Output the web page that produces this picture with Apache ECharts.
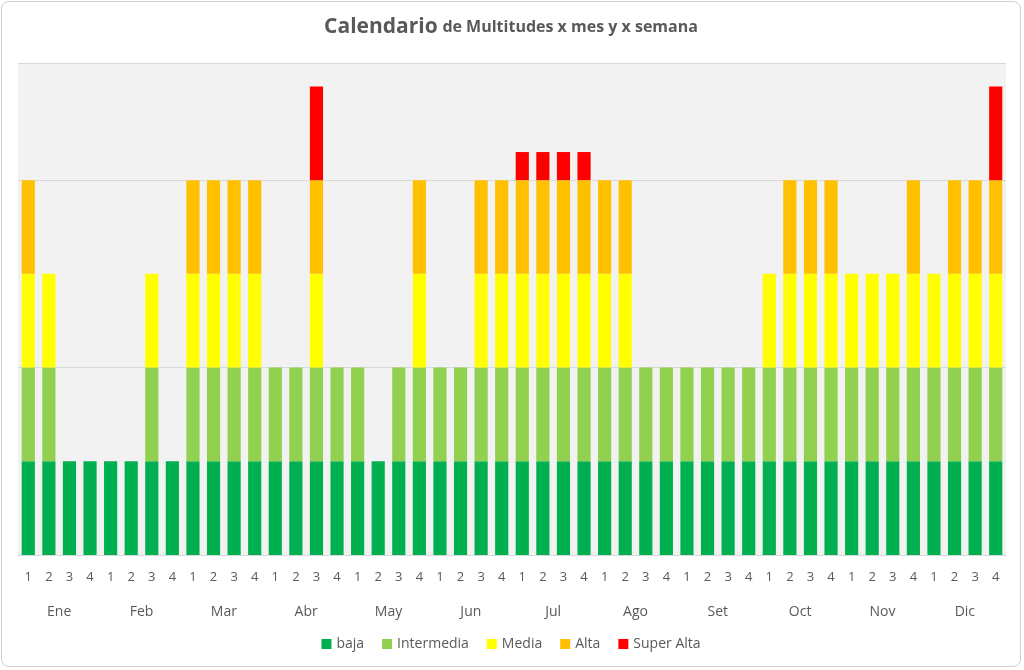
<!DOCTYPE html>
<html>
<head>
<meta charset="utf-8">
<script src="https://cdn.jsdelivr.net/npm/echarts@6/dist/echarts.min.js"></script>
<style>
  html, body { margin: 0; padding: 0; background: #fff; }
  #main { width: 1020px; height: 666px; margin: 1px; border: 1px solid #d0d0d0; border-radius: 8px; box-sizing: border-box; }
</style>
</head>
<body>
<div id="main"></div>
<script>
// weeks and months
var weeks = [];
var months = ['Ene', 'Feb', 'Mar', 'Abr', 'May', 'Jun', 'Jul', 'Ago', 'Set', 'Oct', 'Nov', 'Dic'];
months.forEach(function () { weeks.push('1', '2', '3', '4'); });

// stacked levels per week (Ene..Dic, 4 weeks each)
var baja       = [1,1,1,1, 1,1,1,1, 1,1,1,1, 1,1,1,1, 1,1,1,1, 1,1,1,1, 1,1,1,1, 1,1,1,1, 1,1,1,1, 1,1,1,1, 1,1,1,1, 1,1,1,1];
var intermedia = [1,1,0,0, 0,0,1,0, 1,1,1,1, 1,1,1,1, 1,0,1,1, 1,1,1,1, 1,1,1,1, 1,1,1,1, 1,1,1,1, 1,1,1,1, 1,1,1,1, 1,1,1,1];
var media      = [1,1,0,0, 0,0,1,0, 1,1,1,1, 0,0,1,0, 0,0,0,1, 0,0,1,1, 1,1,1,1, 1,1,0,0, 0,0,0,0, 1,1,1,1, 1,1,1,1, 1,1,1,1];
var alta       = [1,0,0,0, 0,0,0,0, 1,1,1,1, 0,0,1,0, 0,0,0,1, 0,0,1,1, 1,1,1,1, 1,1,0,0, 0,0,0,0, 0,1,1,1, 0,0,0,1, 0,1,1,1];
var superAlta  = [0,0,0,0, 0,0,0,0, 0,0,0,0, 0,0,1,0, 0,0,0,0, 0,0,0,0, 0.3,0.3,0.3,0.3, 0,0,0,0, 0,0,0,0, 0,0,0,0, 0,0,0,0, 0,0,0,1];

var myChart = echarts.init(document.getElementById('main'));

function bar(name, data, color) {
    return {
        name: name,
        type: 'bar',
        stack: 'total',
        barCategoryGap: '36%',
        itemStyle: { color: color },
        data: data
    };
}

var option = {
    textStyle: { fontFamily: 'Open Sans' },
    title: {
        left: 'center',
        top: 10,
        text: '{a|Calendario} {b|de Multitudes x mes y x semana}',
        textStyle: {
            rich: {
                a: { fontSize: 21, color: '#595959', fontFamily: 'Open Sans' },
                b: { fontSize: 16, color: '#595959', fontFamily: 'Open Sans' }
            }
        }
    },
    legend: {
        bottom: 10,
        itemWidth: 10,
        itemHeight: 10,
        itemGap: 18,
        icon: 'rect',
        textStyle: { fontSize: 14, color: '#595959' },
        data: ['baja', 'Intermedia', 'Media', 'Alta', 'Super Alta']
    },
    grid: { left: 16, right: 14, top: 61, bottom: 111, backgroundColor: '#f2f2f2', show: true, borderWidth: 0 },
    xAxis: [
        {
            type: 'category',
            data: weeks,
            axisLine: { lineStyle: { color: '#d9d9d9' } },
            axisTick: { alignWithLabel: false, length: 43, lineStyle: { color: '#d9d9d9' } },
            axisLabel: { color: '#595959', fontSize: 13, margin: 16, interval: 0 }
        },
        {
            type: 'category',
            position: 'bottom',
            offset: 43,
            data: months,
            axisLine: { show: false },
            axisTick: { length: 27, lineStyle: { color: '#d9d9d9' } },
            axisLabel: { color: '#595959', fontSize: 14, margin: 7, interval: 0 }
        }
    ],
    yAxis: {
        type: 'value',
        min: 0,
        max: 5.25,
        interval: 2,
        axisLabel: { show: false },
        axisLine: { show: false },
        axisTick: { show: false },
        splitLine: { lineStyle: { color: '#d9d9d9' } }
    },
    series: [
        bar('baja', baja, '#00b050'),
        bar('Intermedia', intermedia, '#92d050'),
        bar('Media', media, '#ffff00'),
        bar('Alta', alta, '#ffc000'),
        bar('Super Alta', superAlta, '#ff0000')
    ]
};

myChart.setOption(option);
</script>
</body>
</html>
